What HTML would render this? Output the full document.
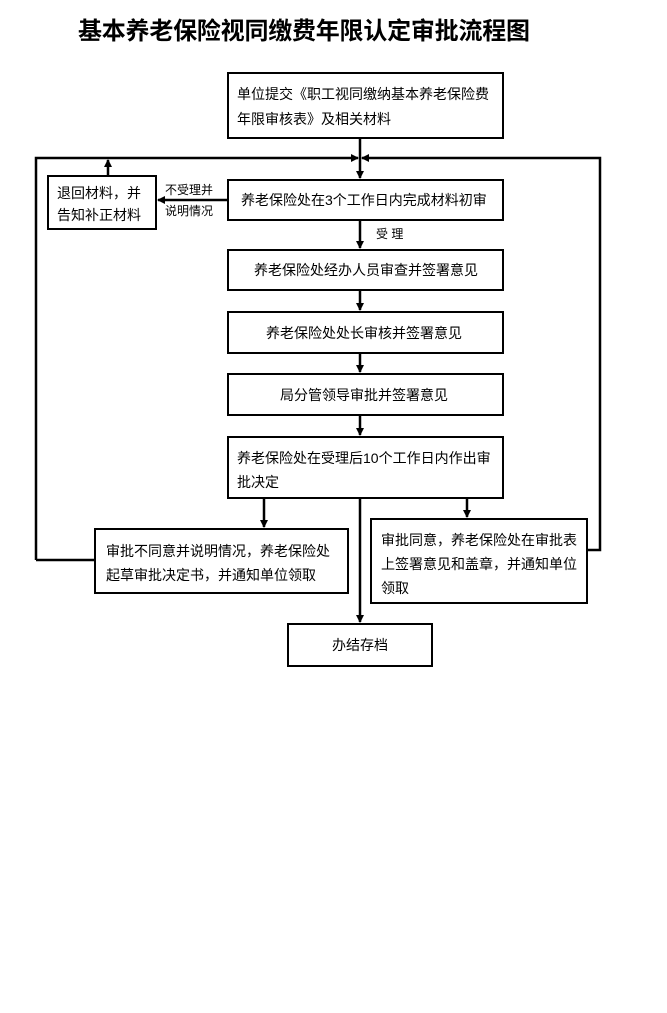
<!DOCTYPE html>
<html><head><meta charset="utf-8"><style>
body{margin:0;background:#fff;}
svg text{font-family:"Liberation Sans","Noto Sans CJK SC",sans-serif;fill:#000;}
</style></head><body>
<svg width="667" height="1008" viewBox="0 0 667 1008" xmlns="http://www.w3.org/2000/svg">
<defs><marker id="a" markerWidth="8" markerHeight="8" refX="7" refY="4" orient="auto" markerUnits="userSpaceOnUse"><path d="M0,0L8,4L0,8z" fill="#000"/></marker></defs>
<text x="78" y="39" font-size="24" font-weight="bold" textLength="452">基本养老保险视同缴费年限认定审批流程图</text>
<g fill="none" stroke="#000" stroke-width="2">
<rect x="228" y="73" width="275" height="65"/>
<rect x="228" y="180" width="275" height="40"/>
<rect x="48" y="176" width="108" height="53"/>
<rect x="228" y="250" width="275" height="40"/>
<rect x="228" y="312" width="275" height="41"/>
<rect x="228" y="374" width="275" height="41"/>
<rect x="228" y="437" width="275" height="61"/>
<rect x="95" y="529" width="253" height="64"/>
<rect x="371" y="519" width="216" height="84"/>
<rect x="288" y="624" width="144" height="42"/>
</g>
<g fill="none" stroke="#000" stroke-width="2.5">
<path d="M360 138V178" marker-end="url(#a)"/>
<path d="M36 560V158H358" marker-end="url(#a)"/>
<path d="M587 550H600V158H362" marker-end="url(#a)"/>
<path d="M108 176V160" marker-end="url(#a)"/>
<path d="M228 200H158" marker-end="url(#a)"/>
<path d="M360 220V248" marker-end="url(#a)"/>
<path d="M360 290V310" marker-end="url(#a)"/>
<path d="M360 353V372" marker-end="url(#a)"/>
<path d="M360 415V435" marker-end="url(#a)"/>
<path d="M264 498V527" marker-end="url(#a)"/>
<path d="M467 498V517" marker-end="url(#a)"/>
<path d="M360 498V622" marker-end="url(#a)"/>
<path d="M95 560H36"/>
</g>
<g font-size="14">
<text x="237" y="99">单位提交《职工视同缴纳基本养老保险费</text>
<text x="237" y="124">年限审核表》及相关材料</text>
<text x="241" y="205">养老保险处在3个工作日内完成材料初审</text>
<text x="57" y="198">退回材料，并</text>
<text x="57" y="220">告知补正材料</text>
<text x="254" y="275">养老保险处经办人员审查并签署意见</text>
<text x="266" y="338">养老保险处处长审核并签署意见</text>
<text x="280" y="400">局分管领导审批并签署意见</text>
<text x="237" y="463">养老保险处在受理后10个工作日内作出审</text>
<text x="237" y="487">批决定</text>
<text x="106" y="556">审批不同意并说明情况，养老保险处</text>
<text x="106" y="580">起草审批决定书，并通知单位领取</text>
<text x="381" y="545">审批同意，养老保险处在审批表</text>
<text x="381" y="569">上签署意见和盖章，并通知单位</text>
<text x="381" y="593">领取</text>
<text x="332" y="650">办结存档</text>
</g>
<g font-size="12">
<text x="165" y="194">不受理并</text>
<text x="165" y="215">说明情况</text>
<text x="376" y="238">受  理</text>
</g>
</svg>
</body></html>
